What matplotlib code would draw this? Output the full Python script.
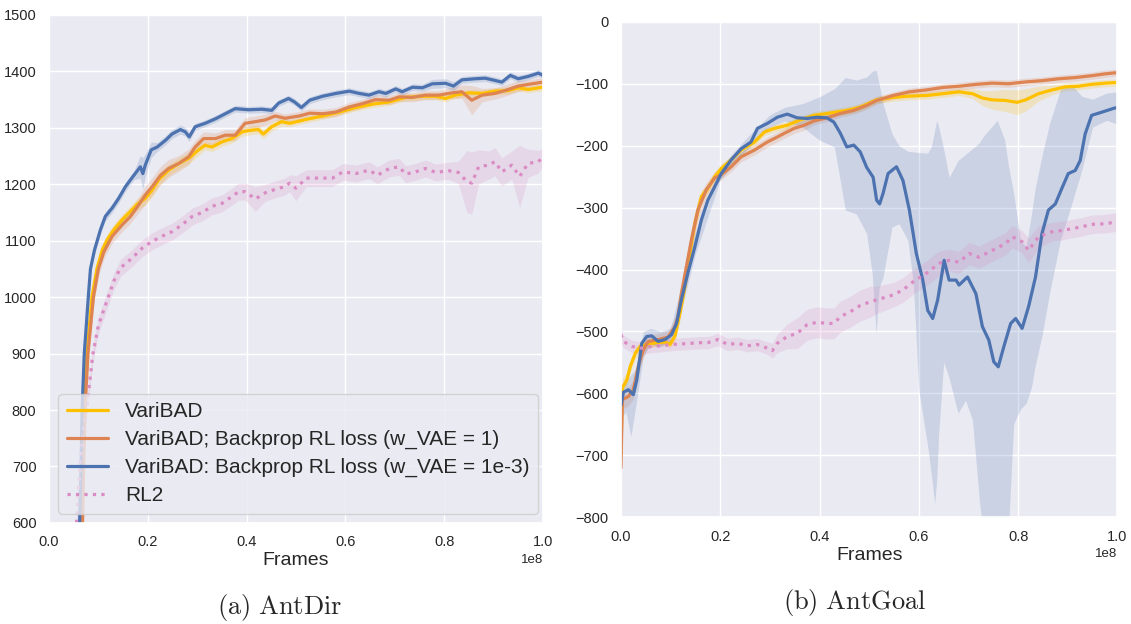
import numpy as np
import matplotlib
matplotlib.use("Agg")
import matplotlib.pyplot as plt
import seaborn as sns

# ---------------- data (x in units of 1e8 frames) ----------------
# AntDir
dir_blue_x = [0.058, 0.062, 0.065, 0.067, 0.0715, 0.0796, 0.084, 0.092, 0.104, 0.114, 0.128, 0.141, 0.155,
              0.172, 0.185, 0.19, 0.195, 0.207, 0.219, 0.236, 0.249, 0.266, 0.276, 0.284, 0.296, 0.316,
              0.337, 0.357, 0.377, 0.404, 0.431, 0.451, 0.465, 0.485, 0.497, 0.511, 0.528, 0.554, 0.581,
              0.608, 0.628, 0.648, 0.668, 0.682, 0.702, 0.715, 0.736, 0.756, 0.776, 0.803, 0.819, 0.836,
              0.863, 0.883, 0.903, 0.917, 0.934, 0.95, 0.97, 0.991, 1.0]
dir_blue = [450, 600, 700, 800, 900, 1000, 1050, 1083, 1119, 1143, 1158, 1175, 1196,
            1216, 1231, 1219, 1234, 1261, 1266, 1278, 1289, 1297, 1293, 1284, 1302, 1308,
            1316, 1325, 1334, 1332, 1333, 1331, 1344, 1352, 1346, 1336, 1349, 1356, 1361,
            1365, 1361, 1358, 1364, 1361, 1369, 1364, 1372, 1371, 1378, 1379, 1374, 1385,
            1387, 1388, 1384, 1381, 1393, 1387, 1391, 1397, 1393]
dir_blue_sd = [10, 10, 10, 10, 10, 10, 10, 8, 8, 8, 8, 8, 8,
               8, 20, 28, 20, 14, 8, 8, 8, 8, 8, 8, 6, 6,
               6, 6, 6, 6, 6, 6, 6, 6, 6, 6, 6, 6, 6,
               6, 6, 6, 6, 6, 6, 6, 6, 6, 8, 8, 8, 6,
               6, 6, 6, 6, 6, 6, 6, 6, 6]

dir_orange_x = [0.063, 0.068, 0.070, 0.073, 0.079, 0.090, 0.100, 0.111, 0.128, 0.148, 0.165, 0.182, 0.195,
                0.209, 0.226, 0.242, 0.263, 0.283, 0.296, 0.313, 0.337, 0.357, 0.377, 0.397, 0.418,
                0.438, 0.458, 0.478, 0.507, 0.528, 0.554, 0.581, 0.608, 0.635, 0.661, 0.689, 0.709,
                0.736, 0.762, 0.789, 0.816, 0.836, 0.856, 0.877, 0.903, 0.923, 0.95, 0.97, 1.0]
dir_orange = [450, 600, 700, 800, 900, 1000, 1050, 1080, 1108, 1128, 1143, 1164, 1181,
              1196, 1216, 1228, 1237, 1249, 1266, 1281, 1281, 1287, 1287, 1308, 1311,
              1314, 1321, 1317, 1321, 1326, 1325, 1328, 1337, 1343, 1350, 1349, 1355,
              1354, 1358, 1358, 1362, 1364, 1349, 1358, 1361, 1366, 1374, 1377, 1381]
dir_orange_sd = [15, 15, 15, 15, 15, 15, 14, 12, 12, 12, 12, 14, 16,
                 16, 16, 16, 14, 14, 12, 12, 10, 10, 10, 10, 10,
                 10, 8, 8, 8, 8, 8, 8, 8, 8, 8, 8, 8,
                 8, 8, 8, 10, 12, 26, 12, 10, 10, 10, 8, 8]

dir_yellow_x = [0.062, 0.067, 0.069, 0.071, 0.077, 0.087, 0.097, 0.108, 0.118, 0.131, 0.148, 0.165, 0.178,
                0.195, 0.209, 0.222, 0.242, 0.263, 0.283, 0.303, 0.316, 0.330, 0.350, 0.370, 0.391,
                0.411, 0.424, 0.434, 0.451, 0.471, 0.487, 0.521, 0.554, 0.588, 0.621, 0.655, 0.689,
                0.722, 0.756, 0.783, 0.803, 0.823, 0.85, 0.877, 0.903, 0.93, 0.95, 0.97, 1.0]
dir_yellow = [450, 600, 700, 800, 900, 1000, 1050, 1084, 1102, 1119, 1137, 1152, 1164,
              1175, 1190, 1208, 1225, 1237, 1246, 1261, 1269, 1266, 1275, 1281, 1293,
              1296, 1297, 1289, 1302, 1311, 1308, 1315, 1321, 1328, 1336, 1342, 1346,
              1354, 1356, 1356, 1352, 1358, 1362, 1361, 1365, 1366, 1371, 1368, 1372]
dir_yellow_sd = [12, 12, 12, 12, 12, 12, 12, 10, 10, 10, 10, 10, 10,
                 12, 12, 12, 10, 10, 10, 10, 8, 8, 8, 8, 8,
                 8, 8, 8, 8, 8, 6, 6, 6, 6, 6, 6, 6,
                 6, 6, 6, 6, 6, 6, 6, 6, 6, 6, 6, 6]

dir_pink_x = [0.053, 0.056, 0.063, 0.069, 0.076, 0.089, 0.100, 0.12, 0.132, 0.145, 0.168, 0.189, 0.209,
              0.229, 0.249, 0.269, 0.29, 0.31, 0.33, 0.35, 0.37, 0.384, 0.397, 0.418, 0.438, 0.458,
              0.478, 0.487, 0.5, 0.521, 0.554, 0.574, 0.595, 0.621, 0.648, 0.665, 0.689, 0.709, 0.722,
              0.742, 0.762, 0.783, 0.809, 0.829, 0.846, 0.856, 0.87, 0.89, 0.903, 0.917, 0.937, 0.953,
              0.97, 0.991, 1.0]
dir_pink = [450, 610, 700, 760, 800, 900, 950, 1000, 1030, 1052, 1069, 1087, 1099,
            1108, 1116, 1128, 1143, 1150, 1161, 1166, 1178, 1187, 1187, 1174, 1185, 1191,
            1196, 1202, 1193, 1211, 1211, 1211, 1222, 1219, 1225, 1216, 1228, 1231, 1218,
            1222, 1228, 1221, 1224, 1221, 1205, 1202, 1231, 1234, 1240, 1222, 1234, 1214,
            1237, 1240, 1249]
dir_pink_sd = [15, 15, 15, 15, 15, 15, 15, 15, 15, 15, 15, 15, 15,
               15, 15, 15, 15, 15, 15, 15, 15, 15, 15, 22, 15, 15,
               15, 15, 22, 15, 15, 15, 15, 15, 15, 15, 15, 15, 15,
               15, 15, 15, 15, 20, 55, 55, 30, 25, 25, 25, 25, 55,
               25, 20, 15]

# AntGoal
goal_blue_x = [0.0, 0.005, 0.015, 0.025, 0.032, 0.042, 0.052, 0.062, 0.075, 0.089, 0.102, 0.112, 0.122,
               0.135, 0.149, 0.162, 0.175, 0.189, 0.202, 0.222, 0.242, 0.262, 0.275, 0.295, 0.315,
               0.335, 0.355, 0.375, 0.395, 0.415, 0.429, 0.442, 0.455, 0.469, 0.482, 0.495, 0.508,
               0.515, 0.521, 0.528, 0.538, 0.555, 0.568, 0.581, 0.595, 0.608, 0.618, 0.628, 0.638,
               0.651, 0.661, 0.675, 0.681, 0.698, 0.715, 0.728, 0.741, 0.751, 0.760, 0.771, 0.785,
               0.795, 0.808, 0.821, 0.835, 0.848, 0.861, 0.875, 0.888, 0.901, 0.915, 0.925, 0.935,
               0.948, 0.968, 0.995, 1.0]
goal_blue = [-620, -598, -594, -602, -578, -519, -508, -507, -516, -513, -505, -487, -448,
             -405, -363, -320, -288, -266, -245, -223, -205, -194, -172, -164, -154,
             -149, -155, -156, -154, -155, -162, -180, -202, -199, -210, -235, -251,
             -288, -294, -277, -245, -234, -256, -304, -374, -417, -466, -479, -449,
             -385, -417, -417, -425, -412, -439, -492, -514, -549, -557, -525, -487,
             -479, -495, -460, -412, -342, -304, -294, -269, -245, -240, -224, -181,
             -151, -146, -139, -139]
goal_band_x = [0.0, 0.01, 0.02, 0.03, 0.045, 0.06, 0.08, 0.1, 0.12, 0.15, 0.2, 0.25, 0.3, 0.33, 0.366,
               0.4, 0.43, 0.452, 0.474, 0.495, 0.506, 0.514, 0.52, 0.528, 0.546, 0.56, 0.578, 0.589,
               0.6, 0.618, 0.625, 0.632, 0.636, 0.64, 0.65, 0.661, 0.679, 0.694, 0.708, 0.722, 0.73,
               0.758, 0.773, 0.78, 0.791, 0.805, 0.816, 0.827, 0.834, 0.849, 0.863, 0.885, 0.906,
               0.928, 0.95, 0.978, 1.0]
goal_blue_lo = [-640, -630, -670, -620, -540, -520, -525, -515, -470, -375, -255, -210, -170, -160, -170,
                -191, -202, -304, -310, -342, -406, -503, -430, -412, -331, -326, -353, -423,
                -595, -686, -730, -778, -740, -665, -549, -575, -632, -611, -643, -773, -830,
                -830, -830, -830, -649, -625, -616, -590, -557, -503, -439, -353, -299,
                -240, -170, -159, -165]
goal_blue_hi = [-600, -580, -570, -560, -500, -495, -500, -495, -430, -340, -235, -190, -150, -138, -132,
                -121, -108, -90, -94, -89, -80, -78, -100, -132, -181, -200, -209, -210,
                -211, -212, -202, -175, -159, -170, -205, -251, -224, -214, -205, -195, -185,
                -159, -191, -230, -277, -353, -363, -310, -270, -213, -165, -110, -100,
                -120, -125, -115, -113]

goal_orange_x = [0.0, 0.003, 0.015, 0.025, 0.035, 0.045, 0.055, 0.075, 0.095, 0.109, 0.115, 0.122, 0.132,
                 0.142, 0.155, 0.172, 0.189, 0.202, 0.222, 0.242, 0.269, 0.295, 0.315, 0.329, 0.349,
                 0.369, 0.389, 0.415, 0.442, 0.469, 0.495, 0.515, 0.548, 0.581, 0.615, 0.648, 0.681,
                 0.715, 0.748, 0.781, 0.815, 0.848, 0.881, 0.915, 0.948, 0.975, 1.0]
goal_orange = [-720, -610, -605, -594, -556, -530, -516, -513, -509, -492, -475, -438, -395,
               -352, -304, -271, -252, -247, -234, -218, -207, -194, -186, -180, -172,
               -167, -160, -155, -148, -143, -135, -127, -119, -113, -110, -106, -104,
               -101, -99, -100, -97, -95, -92, -90, -87, -84, -82]
goal_orange_sd = [15, 15, 15, 15, 15, 12, 10, 10, 10, 15, 20, 20, 20,
                  20, 18, 12, 10, 8, 8, 8, 8, 8, 8, 8, 8,
                  8, 6, 6, 6, 6, 6, 6, 6, 6, 6, 6, 6,
                  6, 6, 6, 6, 6, 6, 6, 6, 6, 6]

goal_yellow_x = [0.0, 0.003, 0.012, 0.019, 0.029, 0.039, 0.055, 0.075, 0.089, 0.099, 0.109, 0.119, 0.129,
                 0.139, 0.149, 0.162, 0.175, 0.189, 0.202, 0.222, 0.242, 0.269, 0.289, 0.309, 0.335,
                 0.362, 0.389, 0.415, 0.455, 0.481, 0.515, 0.548, 0.581, 0.615, 0.648, 0.681, 0.708,
                 0.728, 0.748, 0.775, 0.798, 0.815, 0.841, 0.868, 0.895, 0.921, 0.948, 0.975, 1.0]
goal_yellow = [-700, -591, -578, -556, -535, -524, -520, -518, -517, -521, -507, -470, -427,
               -373, -325, -282, -269, -250, -237, -223, -207, -194, -178, -172, -167,
               -158, -151, -148, -143, -138, -126, -122, -120, -119, -116, -113, -116,
               -123, -126, -127, -130, -126, -116, -110, -105, -104, -101, -99, -98]
goal_yellow_sd = [15, 15, 12, 10, 10, 8, 6, 6, 6, 6, 8, 12, 15,
                  15, 12, 10, 8, 8, 8, 6, 6, 6, 6, 6, 6,
                  6, 6, 6, 6, 6, 6, 6, 6, 6, 6, 6, 8,
                  12, 15, 18, 20, 18, 12, 8, 6, 6, 6, 6, 6]

goal_pink_x = [0.0, 0.005, 0.022, 0.042, 0.062, 0.082, 0.102, 0.122, 0.142, 0.162, 0.175, 0.195, 0.215,
               0.235, 0.255, 0.275, 0.295, 0.305, 0.315, 0.335, 0.355, 0.375, 0.395, 0.415, 0.429,
               0.442, 0.462, 0.482, 0.502, 0.515, 0.548, 0.568, 0.588, 0.615, 0.641, 0.661, 0.681,
               0.701, 0.721, 0.748, 0.775, 0.788, 0.808, 0.821, 0.841, 0.868, 0.888, 0.908, 0.928,
               0.948, 0.975, 1.0]
goal_pink = [-505, -516, -524, -527, -524, -523, -521, -520, -519, -518, -518, -513, -521,
             -519, -523, -521, -527, -531, -519, -508, -503, -489, -485, -487, -487,
             -476, -468, -458, -452, -449, -441, -433, -420, -406, -390, -385, -388,
             -374, -380, -369, -358, -347, -355, -369, -347, -339, -337, -334, -331,
             -327, -326, -323]
goal_pink_sd = [12, 10, 10, 10, 10, 10, 10, 10, 10, 10, 10, 10, 10,
                10, 10, 10, 10, 12, 15, 20, 25, 25, 25, 25, 25,
                25, 25, 25, 25, 22, 20, 20, 20, 20, 20, 18, 18,
                18, 18, 18, 18, 18, 18, 20, 18, 15, 15, 15, 15,
                15, 15, 15]

labels = ["VariBAD", "VariBAD; Backprop RL loss (w_VAE = 1)",
          "VariBAD: Backprop RL loss (w_VAE = 1e-3)", "RL2"]
c_yellow = "#FFC000"
c_orange = "#DD8452"
c_blue = "#4C72B0"
c_pink = "#DA8BC3"

# ---------------- style ----------------
sns.set_theme(style="darkgrid")
plt.rcParams["font.family"] = ["Liberation Sans", "DejaVu Sans"]
plt.rcParams["mathtext.fontset"] = "cm"
plt.rcParams["axes.unicode_minus"] = True

fig = plt.figure(figsize=(11.31, 6.24), dpi=100)
ax1 = fig.add_axes([0.0433, 0.162, 0.4367, 0.814])
ax2 = fig.add_axes([0.549, 0.171, 0.439, 0.794])


def curve(ax, x, y, sd, color, label, ls="-"):
    x = np.array(x) * 1e8
    y = np.array(y, dtype=float)
    sd = np.array(sd, dtype=float)
    ax.fill_between(x, y - sd, y + sd, color=color, alpha=0.2, linewidth=0)
    ax.plot(x, y, color=color, lw=2.3, ls=ls, label=label)


# AntDir
curve(ax1, dir_yellow_x, dir_yellow, dir_yellow_sd, c_yellow, labels[0])
curve(ax1, dir_orange_x, dir_orange, dir_orange_sd, c_orange, labels[1])
curve(ax1, dir_blue_x, dir_blue, dir_blue_sd, c_blue, labels[2])
curve(ax1, dir_pink_x, dir_pink, dir_pink_sd, c_pink, labels[3], ls=":")
ax1.set_xlim(0, 1e8)
ax1.set_ylim(600, 1500)
ax1.set_yticks(np.arange(600, 1501, 100))
ax1.set_xticks(np.linspace(0, 1e8, 6))

# AntGoal
curve(ax2, goal_yellow_x, goal_yellow, goal_yellow_sd, c_yellow, labels[0])
curve(ax2, goal_orange_x, goal_orange, goal_orange_sd, c_orange, labels[1])
bx = np.array(goal_band_x) * 1e8
ax2.fill_between(bx, goal_blue_lo, goal_blue_hi, color=c_blue, alpha=0.2, linewidth=0)
ax2.plot(np.array(goal_blue_x) * 1e8, goal_blue, color=c_blue, lw=2.3, label=labels[2])
curve(ax2, goal_pink_x, goal_pink, goal_pink_sd, c_pink, labels[3], ls=":")
ax2.set_xlim(0, 1e8)
ax2.set_ylim(-800, 0)
ax2.set_yticks(np.arange(-800, 1, 100))
ax2.set_xticks(np.linspace(0, 1e8, 6))

for ax in (ax1, ax2):
    ax.set_xlabel("Frames", fontsize=14, labelpad=2)
    ax.tick_params(labelsize=10.5, pad=3)
    ax.xaxis.get_offset_text().set_fontsize(9.5)

handles, labs = ax1.get_legend_handles_labels()
ax1.legend(handles, labs, loc="lower left", fontsize=15, borderaxespad=0.45,
           labelspacing=0.42)

fig.text(0.2476, 0.027, r"$\mathrm{(a)\ AntDir}$", fontsize=19, ha="center", va="center")
fig.text(0.756, 0.034, r"$\mathrm{(b)\ AntGoal}$", fontsize=19, ha="center", va="center")

fig.savefig("out.png", dpi=100)
